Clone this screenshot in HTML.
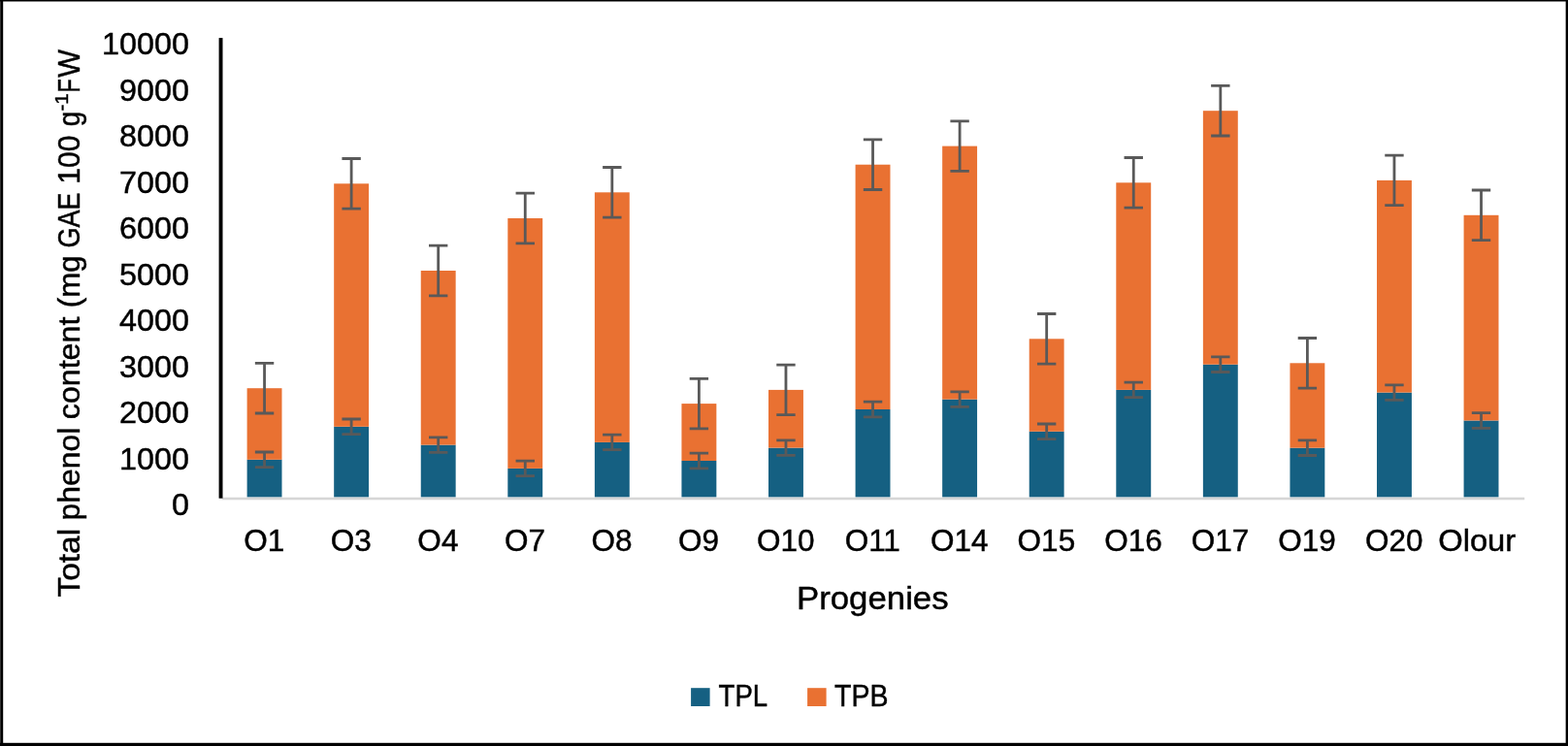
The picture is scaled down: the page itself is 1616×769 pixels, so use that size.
<!DOCTYPE html>
<html><head><meta charset="utf-8"><title>Total phenol content chart</title>
<style>
html,body{margin:0;padding:0;background:#fff;}
body{width:1616px;height:769px;overflow:hidden;}
svg{display:block;}
text{font-family:"Liberation Sans", Arial, sans-serif;fill:#000;stroke:#000;stroke-width:0.45px;}
</style></head>
<body>
<svg width="1616" height="769" viewBox="0 0 1616 769">
<rect x="0" y="0" width="1616" height="769" fill="#fff"/>
<rect x="254.61" y="473.80" width="35.90" height="38.70" fill="#156082"/>
<rect x="254.61" y="400.20" width="35.90" height="73.60" fill="#E97132"/>
<rect x="344.18" y="439.80" width="35.90" height="72.70" fill="#156082"/>
<rect x="344.18" y="189.30" width="35.90" height="250.50" fill="#E97132"/>
<rect x="433.75" y="458.60" width="35.90" height="53.90" fill="#156082"/>
<rect x="433.75" y="279.00" width="35.90" height="179.60" fill="#E97132"/>
<rect x="523.31" y="482.90" width="35.90" height="29.60" fill="#156082"/>
<rect x="523.31" y="225.00" width="35.90" height="257.90" fill="#E97132"/>
<rect x="612.88" y="455.90" width="35.90" height="56.60" fill="#156082"/>
<rect x="612.88" y="198.30" width="35.90" height="257.60" fill="#E97132"/>
<rect x="702.45" y="475.00" width="35.90" height="37.50" fill="#156082"/>
<rect x="702.45" y="416.10" width="35.90" height="58.90" fill="#E97132"/>
<rect x="792.02" y="461.60" width="35.90" height="50.90" fill="#156082"/>
<rect x="792.02" y="401.90" width="35.90" height="59.70" fill="#E97132"/>
<rect x="881.59" y="422.00" width="35.90" height="90.50" fill="#156082"/>
<rect x="881.59" y="169.70" width="35.90" height="252.30" fill="#E97132"/>
<rect x="971.16" y="411.60" width="35.90" height="100.90" fill="#156082"/>
<rect x="971.16" y="150.60" width="35.90" height="261.00" fill="#E97132"/>
<rect x="1060.73" y="444.80" width="35.90" height="67.70" fill="#156082"/>
<rect x="1060.73" y="349.30" width="35.90" height="95.50" fill="#E97132"/>
<rect x="1150.30" y="401.90" width="35.90" height="110.60" fill="#156082"/>
<rect x="1150.30" y="188.30" width="35.90" height="213.60" fill="#E97132"/>
<rect x="1239.87" y="375.70" width="35.90" height="136.80" fill="#156082"/>
<rect x="1239.87" y="114.20" width="35.90" height="261.50" fill="#E97132"/>
<rect x="1329.44" y="461.70" width="35.90" height="50.80" fill="#156082"/>
<rect x="1329.44" y="374.30" width="35.90" height="87.40" fill="#E97132"/>
<rect x="1419.01" y="404.60" width="35.90" height="107.90" fill="#156082"/>
<rect x="1419.01" y="185.90" width="35.90" height="218.70" fill="#E97132"/>
<rect x="1508.58" y="433.50" width="35.90" height="79.00" fill="#156082"/>
<rect x="1508.58" y="221.80" width="35.90" height="211.70" fill="#E97132"/>
<path d="M272.56 466.00V481.60M262.86 466.00H282.25M262.86 481.60H282.25" stroke="#595959" stroke-width="2.8" fill="none"/>
<path d="M272.56 374.40V426.00M262.86 374.40H282.25M262.86 426.00H282.25" stroke="#595959" stroke-width="2.8" fill="none"/>
<path d="M362.12 432.00V447.60M352.43 432.00H371.82M352.43 447.60H371.82" stroke="#595959" stroke-width="2.8" fill="none"/>
<path d="M362.12 163.50V215.10M352.43 163.50H371.82M352.43 215.10H371.82" stroke="#595959" stroke-width="2.8" fill="none"/>
<path d="M451.69 450.80V466.40M442.00 450.80H461.39M442.00 466.40H461.39" stroke="#595959" stroke-width="2.8" fill="none"/>
<path d="M451.69 253.20V304.80M442.00 253.20H461.39M442.00 304.80H461.39" stroke="#595959" stroke-width="2.8" fill="none"/>
<path d="M541.26 475.10V490.70M531.56 475.10H550.97M531.56 490.70H550.97" stroke="#595959" stroke-width="2.8" fill="none"/>
<path d="M541.26 199.20V250.80M531.56 199.20H550.97M531.56 250.80H550.97" stroke="#595959" stroke-width="2.8" fill="none"/>
<path d="M630.83 448.10V463.70M621.13 448.10H640.53M621.13 463.70H640.53" stroke="#595959" stroke-width="2.8" fill="none"/>
<path d="M630.83 172.50V224.10M621.13 172.50H640.53M621.13 224.10H640.53" stroke="#595959" stroke-width="2.8" fill="none"/>
<path d="M720.40 467.20V482.80M710.70 467.20H730.11M710.70 482.80H730.11" stroke="#595959" stroke-width="2.8" fill="none"/>
<path d="M720.40 390.30V441.90M710.70 390.30H730.11M710.70 441.90H730.11" stroke="#595959" stroke-width="2.8" fill="none"/>
<path d="M809.97 453.80V469.40M800.27 453.80H819.67M800.27 469.40H819.67" stroke="#595959" stroke-width="2.8" fill="none"/>
<path d="M809.97 376.10V427.70M800.27 376.10H819.67M800.27 427.70H819.67" stroke="#595959" stroke-width="2.8" fill="none"/>
<path d="M899.54 414.20V429.80M889.84 414.20H909.25M889.84 429.80H909.25" stroke="#595959" stroke-width="2.8" fill="none"/>
<path d="M899.54 143.90V195.50M889.84 143.90H909.25M889.84 195.50H909.25" stroke="#595959" stroke-width="2.8" fill="none"/>
<path d="M989.11 403.80V419.40M979.41 403.80H998.81M979.41 419.40H998.81" stroke="#595959" stroke-width="2.8" fill="none"/>
<path d="M989.11 124.80V176.40M979.41 124.80H998.81M979.41 176.40H998.81" stroke="#595959" stroke-width="2.8" fill="none"/>
<path d="M1078.68 437.00V452.60M1068.98 437.00H1088.38M1068.98 452.60H1088.38" stroke="#595959" stroke-width="2.8" fill="none"/>
<path d="M1078.68 323.50V375.10M1068.98 323.50H1088.38M1068.98 375.10H1088.38" stroke="#595959" stroke-width="2.8" fill="none"/>
<path d="M1168.25 394.10V409.70M1158.55 394.10H1177.95M1158.55 409.70H1177.95" stroke="#595959" stroke-width="2.8" fill="none"/>
<path d="M1168.25 162.50V214.10M1158.55 162.50H1177.95M1158.55 214.10H1177.95" stroke="#595959" stroke-width="2.8" fill="none"/>
<path d="M1257.82 367.90V383.50M1248.12 367.90H1267.52M1248.12 383.50H1267.52" stroke="#595959" stroke-width="2.8" fill="none"/>
<path d="M1257.82 88.40V140.00M1248.12 88.40H1267.52M1248.12 140.00H1267.52" stroke="#595959" stroke-width="2.8" fill="none"/>
<path d="M1347.39 453.90V469.50M1337.69 453.90H1357.10M1337.69 469.50H1357.10" stroke="#595959" stroke-width="2.8" fill="none"/>
<path d="M1347.39 348.50V400.10M1337.69 348.50H1357.10M1337.69 400.10H1357.10" stroke="#595959" stroke-width="2.8" fill="none"/>
<path d="M1436.96 396.80V412.40M1427.26 396.80H1446.66M1427.26 412.40H1446.66" stroke="#595959" stroke-width="2.8" fill="none"/>
<path d="M1436.96 160.10V211.70M1427.26 160.10H1446.66M1427.26 211.70H1446.66" stroke="#595959" stroke-width="2.8" fill="none"/>
<path d="M1526.53 425.70V441.30M1516.83 425.70H1536.23M1516.83 441.30H1536.23" stroke="#595959" stroke-width="2.8" fill="none"/>
<path d="M1526.53 196.00V247.60M1516.83 196.00H1536.23M1516.83 247.60H1536.23" stroke="#595959" stroke-width="2.8" fill="none"/>
<rect x="229" y="512.7" width="1342.2" height="2.6" fill="#d6d6d6"/>
<rect x="225.6" y="39.1" width="3.9" height="474.6" fill="#000"/>
<text transform="translate(195.0 56.03) scale(1.055 1)" text-anchor="end" font-size="30.7">10000</text>
<text transform="translate(195.0 103.56) scale(1.055 1)" text-anchor="end" font-size="30.7">9000</text>
<text transform="translate(195.0 151.08) scale(1.055 1)" text-anchor="end" font-size="30.7">8000</text>
<text transform="translate(195.0 198.61) scale(1.055 1)" text-anchor="end" font-size="30.7">7000</text>
<text transform="translate(195.0 246.13) scale(1.055 1)" text-anchor="end" font-size="30.7">6000</text>
<text transform="translate(195.0 293.66) scale(1.055 1)" text-anchor="end" font-size="30.7">5000</text>
<text transform="translate(195.0 341.19) scale(1.055 1)" text-anchor="end" font-size="30.7">4000</text>
<text transform="translate(195.0 388.71) scale(1.055 1)" text-anchor="end" font-size="30.7">3000</text>
<text transform="translate(195.0 436.24) scale(1.055 1)" text-anchor="end" font-size="30.7">2000</text>
<text transform="translate(195.0 483.76) scale(1.055 1)" text-anchor="end" font-size="30.7">1000</text>
<text transform="translate(195.0 531.29) scale(1.055 1)" text-anchor="end" font-size="30.7">0</text>
<text transform="translate(272.25 567.9) scale(1.0 1)" text-anchor="middle" font-size="31.5">O1</text>
<text transform="translate(361.82 567.9) scale(1.0 1)" text-anchor="middle" font-size="31.5">O3</text>
<text transform="translate(451.39 567.9) scale(1.0 1)" text-anchor="middle" font-size="31.5">O4</text>
<text transform="translate(540.97 567.9) scale(1.0 1)" text-anchor="middle" font-size="31.5">O7</text>
<text transform="translate(630.53 567.9) scale(1.0 1)" text-anchor="middle" font-size="31.5">O8</text>
<text transform="translate(720.11 567.9) scale(1.0 1)" text-anchor="middle" font-size="31.5">O9</text>
<text transform="translate(809.67 567.9) scale(1.0 1)" text-anchor="middle" font-size="31.5">O10</text>
<text transform="translate(899.25 567.9) scale(1.0 1)" text-anchor="middle" font-size="31.5">O11</text>
<text transform="translate(988.81 567.9) scale(1.0 1)" text-anchor="middle" font-size="31.5">O14</text>
<text transform="translate(1078.38 567.9) scale(1.0 1)" text-anchor="middle" font-size="31.5">O15</text>
<text transform="translate(1167.95 567.9) scale(1.0 1)" text-anchor="middle" font-size="31.5">O16</text>
<text transform="translate(1257.52 567.9) scale(1.0 1)" text-anchor="middle" font-size="31.5">O17</text>
<text transform="translate(1347.10 567.9) scale(1.0 1)" text-anchor="middle" font-size="31.5">O19</text>
<text transform="translate(1436.66 567.9) scale(1.0 1)" text-anchor="middle" font-size="31.5">O20</text>
<text transform="translate(1522.20 567.9) scale(1.04 1)" text-anchor="middle" font-size="31.5">Olour</text>
<text transform="translate(899.3 628.0) scale(1.0705 1)" text-anchor="middle" font-size="32.5">Progenies</text>
<text transform="translate(81.8 615.57) rotate(-90) scale(1.046 1)" font-size="32">Total</text>
<text transform="translate(81.8 536.42) rotate(-90) scale(0.9959 1)" font-size="32">phenol</text>
<text transform="translate(81.8 432.21) rotate(-90) scale(1.0059 1)" font-size="32">content</text>
<text transform="translate(81.8 317.17) rotate(-90) scale(0.9773 1)" font-size="32">(mg</text>
<text transform="translate(81.8 255.5) rotate(-90) scale(0.8462 1)" font-size="32">GAE</text>
<text transform="translate(81.8 189.67) rotate(-90) scale(0.939 1)" font-size="32">100</text>
<text transform="translate(81.8 130.36) rotate(-90) scale(0.8625 1)" font-size="32">g</text>
<text transform="translate(69.7 114.55) rotate(-90) scale(1.0878 1)" font-size="19.1">-1</text>
<text transform="translate(81.8 95.6) rotate(-90) scale(0.7334 1)" font-size="32">F</text>
<text transform="translate(81.8 79.7) rotate(-90) scale(0.9511 1)" font-size="32">W</text>
<rect x="712.1" y="709.2" width="19.5" height="18.8" fill="#156082"/>
<text transform="translate(740.6 728) scale(0.888 1)" font-size="31.0">TPL</text>
<rect x="832.1" y="709.2" width="19.5" height="18.8" fill="#E97132"/>
<text transform="translate(860.1 728) scale(0.92 1)" font-size="31.0">TPB</text>
<rect x="0.2" y="0" width="3.0" height="769" fill="#000"/>
<rect x="0" y="0" width="1616" height="1.5" fill="#000"/>
<rect x="1613.65" y="0" width="2.35" height="769" fill="#000"/>
<rect x="0" y="765.8" width="1616" height="3.2" fill="#000"/>
</svg>
</body></html>
